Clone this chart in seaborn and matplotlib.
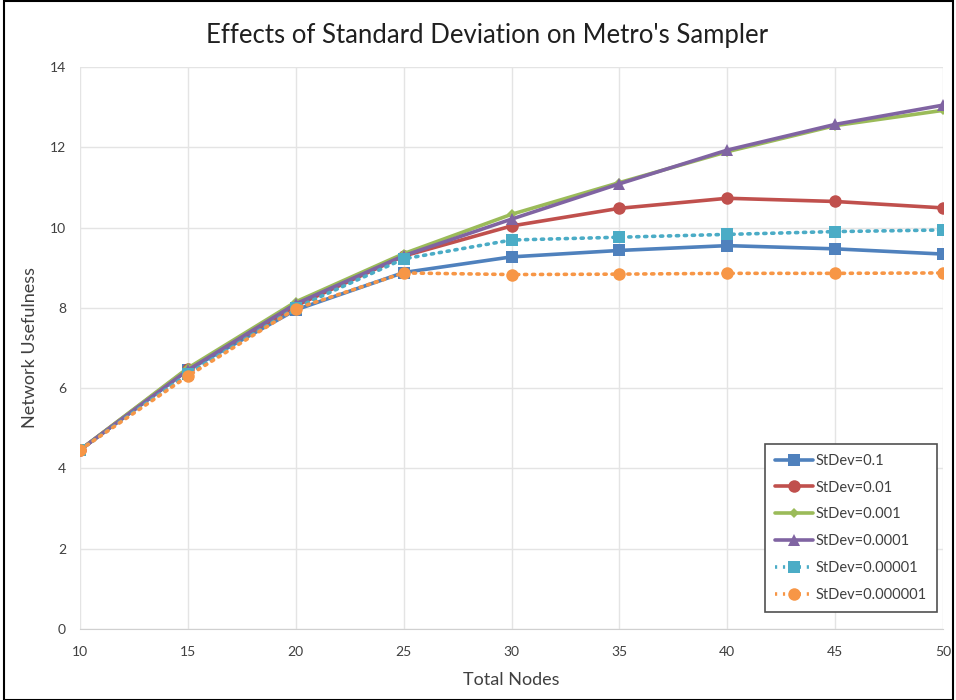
import numpy as np
import pandas as pd
import matplotlib
matplotlib.use("Agg")
import matplotlib.pyplot as plt
import seaborn as sns
from matplotlib.patches import Rectangle

nodes = [10, 15, 20, 25, 30, 35, 40, 45, 50]
series_names = ["StDev=0.1", "StDev=0.01", "StDev=0.001", "StDev=0.0001",
                "StDev=0.00001", "StDev=0.000001"]
sd_0_1 = [4.46, 6.45, 7.95, 8.88, 9.27, 9.43, 9.55, 9.47, 9.34]
sd_0_01 = [4.46, 6.48, 8.05, 9.29, 10.04, 10.48, 10.73, 10.65, 10.49]
sd_0_001 = [4.46, 6.50, 8.15, 9.35, 10.33, 11.12, 11.89, 12.54, 12.92]
sd_0_0001 = [4.46, 6.45, 8.10, 9.30, 10.21, 11.09, 11.93, 12.57, 13.05]
sd_0_00001 = [4.46, 6.35, 8.00, 9.22, 9.69, 9.76, 9.83, 9.90, 9.94]
sd_0_000001 = [4.46, 6.30, 7.98, 8.87, 8.83, 8.84, 8.86, 8.86, 8.87]

all_vals = [sd_0_1, sd_0_01, sd_0_001, sd_0_0001, sd_0_00001, sd_0_000001]
df = pd.DataFrame({
    "Total Nodes": np.tile(nodes, len(series_names)),
    "Network Usefulness": np.concatenate(all_vals),
    "series": np.repeat(series_names, len(nodes)),
})

colors = ["#4F81BD", "#C0504D", "#9BBB59", "#8064A2", "#4BACC6", "#F79646"]
palette = dict(zip(series_names, colors))
markers = dict(zip(series_names, ["s", "o", "D", "^", "s", "o"]))
dashes = dict(zip(series_names, ["", "", "", "", (0.6, 1.6), (0.6, 1.6)]))
msizes = {"s": 8.5, "o": 9, "D": 5.5, "^": 9}

sns.set_style("white")
plt.rcParams["font.family"] = ["Lato", "DejaVu Sans"]

fig = plt.figure(figsize=(9.56, 7.0), dpi=100)
ax = fig.add_axes([80/956, 71/700, 863/956, 562/700])

sns.lineplot(data=df, x="Total Nodes", y="Network Usefulness", hue="series",
             style="series", palette=palette, markers=markers, dashes=dashes,
             linewidth=2.6, markersize=9, markeredgewidth=0, ax=ax,
             legend=True, sort=False)

for line, name in zip(ax.lines, series_names):
    m = markers[name]
    line.set_markersize(msizes[m])
    line.set_dash_capstyle("round")
    line.set_solid_capstyle("round")

ax.set_xlim(10, 50)
ax.set_ylim(0, 14)
ax.set_xticks(nodes)
ax.set_yticks(range(0, 15, 2))
ax.grid(True, color="#E4E4E4", linewidth=1)
for s in ["top", "right", "left"]:
    ax.spines[s].set_visible(False)
ax.spines["bottom"].set_color("#D0D0D0")
ax.tick_params(axis="both", length=0, labelsize=10, colors="#404040")
ax.tick_params(axis="x", pad=12)
ax.tick_params(axis="y", pad=10)
ax.set_xlabel("Total Nodes", fontsize=13, color="#404040", labelpad=10)
ax.set_ylabel("Network Usefulness", fontsize=13, color="#404040", labelpad=12)
ax.yaxis.set_label_coords(-(80 - 38) / 863, 0.5)

fig.text(487/956, 1 - 35/700, "Effects of Standard Deviation on Metro's Sampler",
         ha="center", va="center", fontsize=18.5, color="#202020")

handles, labels = ax.get_legend_handles_labels()
for h, name in zip(handles, labels):
    h.set_markersize(msizes[markers[name]])
    h.set_linewidth(2.6)
leg = ax.legend(handles, labels, loc="lower right", bbox_to_anchor=(0.993, 0.03),
                borderaxespad=0, fontsize=10.5, frameon=True, fancybox=False,
                framealpha=1, edgecolor="#505050", handlelength=2.6,
                labelspacing=0.88, borderpad=0.7, handletextpad=0.2)
leg.get_frame().set_linewidth(1.2)
for t in leg.get_texts():
    t.set_color("#404040")

fig.patches.append(Rectangle((4/956, 0), 949/956, 699/700, transform=fig.transFigure,
                             fill=False, edgecolor="black", linewidth=1.5))

fig.savefig("out.png", dpi=100)
